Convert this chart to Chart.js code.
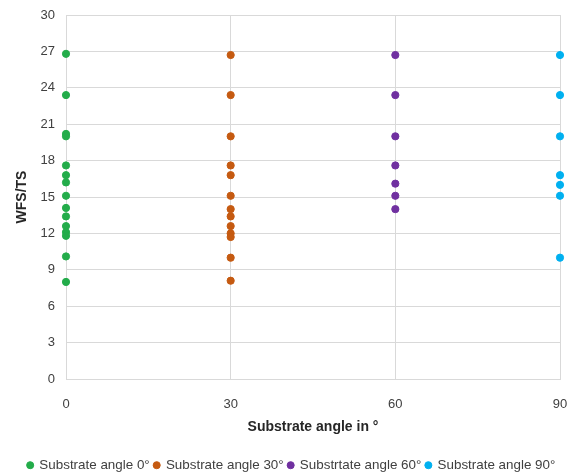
<!DOCTYPE html>
<html>
<head>
<meta charset="utf-8">
<script src="https://cdn.jsdelivr.net/npm/chart.js@4.4.1/dist/chart.umd.min.js"></script>
<style>
  body { margin: 0; background: #fff; }
</style>
</head>
<body>
<canvas id="scatterChart" width="575" height="475"></canvas>
<script>
  // Values
  const seriesLabels = ["Substrate angle 0°", "Substrate angle 30°", "Substrtate angle 60°", "Substrate angle 90°"];
  const angles = [0, 30, 60, 90];
  const angle0 = [26.8, 23.4, 20.2, 20.0, 17.6, 16.8, 16.2, 15.1, 14.1, 13.4, 12.6, 12.1, 11.8, 10.1, 8.0];
  const angle30 = [26.7, 23.4, 20.0, 17.6, 16.8, 15.1, 14.0, 13.4, 12.6, 12.0, 11.7, 10.0, 8.1];
  const angle60 = [26.7, 23.4, 20.0, 17.6, 16.1, 15.1, 14.0];
  const angle90 = [26.7, 23.4, 20.0, 16.8, 16.0, 15.1, 10.0];
  const seriesColors = ["#23ac4a", "#c55a11", "#7030a0", "#00b0f0"];

  const allValues = [angle0, angle30, angle60, angle90];

  // Function to turn one series into scatter points
  function makePoints(angle, values) {
    return values.map((v) => ({ x: angle, y: v }));
  }

  const datasets = allValues.map((values, i) => ({
    label: seriesLabels[i],
    data: makePoints(angles[i], values),
    borderColor: seriesColors[i],
    backgroundColor: seriesColors[i],
    pointRadius: 3.6,
    pointHoverRadius: 3.6,
    clip: false,
  }));

  const tickFont = { family: "Liberation Sans", size: 13 };
  const titleFont = { family: "Liberation Sans", size: 14, weight: "bold" };

  new Chart(document.getElementById("scatterChart").getContext("2d"), {
    type: "scatter",
    data: { datasets: datasets },
    options: {
      responsive: false,
      animation: false,
      layout: { padding: { top: 15, right: 15, bottom: 0, left: 23 } },
      plugins: {
        tooltip: { enabled: false },
        legend: {
          position: "bottom",
          maxHeight: 21,
          labels: {
            usePointStyle: true,
            pointStyle: "circle",
            boxWidth: 5,
            boxHeight: 5,
            padding: 4.5,
            color: "#404040",
            font: { family: "Liberation Sans", size: 13.4 },
          },
        },
      },
      scales: {
        x: {
          type: "linear",
          min: 0,
          max: 90,
          afterFit: (scale) => {
            scale.height = 75;
            scale.paddingLeft = 0;
            scale.paddingRight = 0;
          },
          ticks: { stepSize: 30, padding: 18, color: "#404040", font: tickFont },
          grid: { color: "#d9d9d9", drawTicks: false },
          border: { color: "#d9d9d9" },
          title: {
            display: true,
            text: "Substrate angle in °",
            color: "#262626",
            font: titleFont,
            padding: { top: 0, bottom: 18 },
          },
        },
        y: {
          min: 0,
          max: 30,
          afterFit: (scale) => {
            scale.width = 43;
            scale.paddingTop = 0;
            scale.paddingBottom = 0;
          },
          ticks: { stepSize: 3, padding: 11, color: "#404040", font: tickFont },
          grid: { color: "#d9d9d9", drawTicks: false },
          border: { color: "#d9d9d9" },
          title: {
            display: true,
            text: "WFS/TS",
            color: "#262626",
            font: titleFont,
            padding: { top: -9, bottom: 0 },
          },
        },
      },
    },
  });
</script>
</body>
</html>
